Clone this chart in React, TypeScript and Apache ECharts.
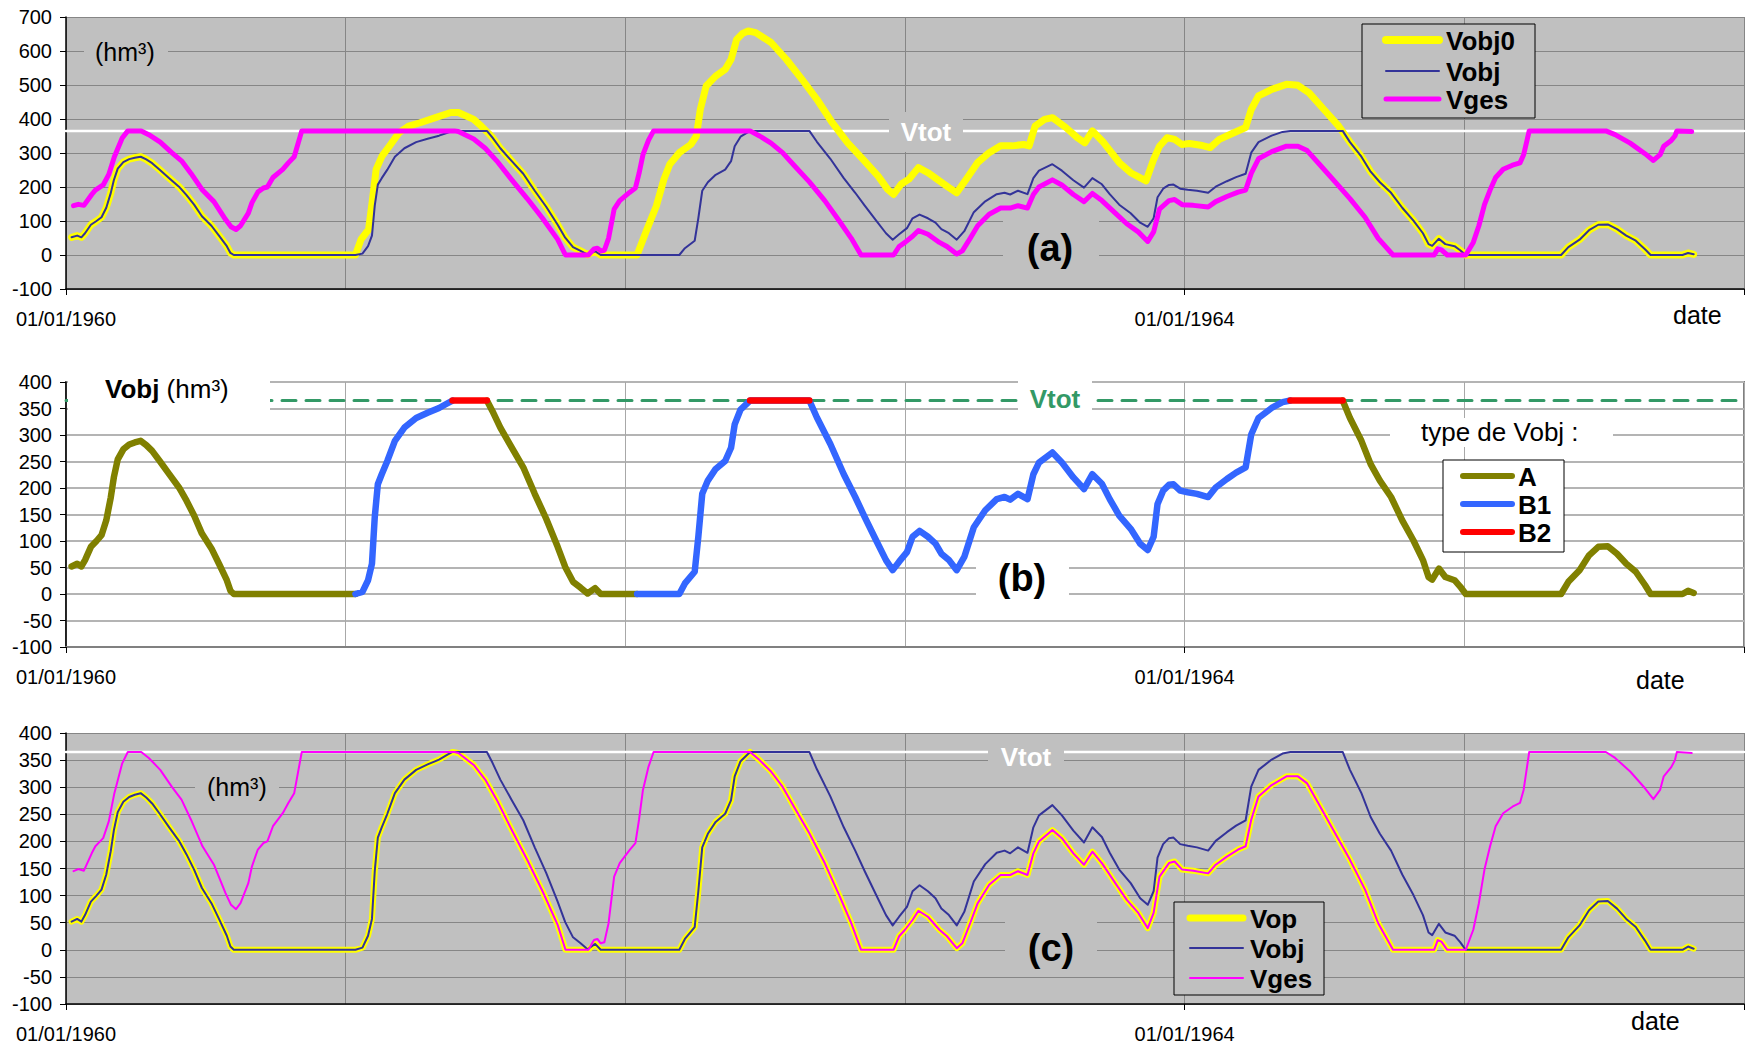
import React, { useEffect, useRef } from "react";
import * as echarts from "echarts";

const FONT = "'Liberation Sans', Arial, Helvetica, sans-serif";

// ---------- data (decimal year, hm3) ----------
const VTOT = 365;
const labelYears = [1960, 1964];

const vobj: [number, number][] = [
  [1960.02, 52], [1960.04, 57], [1960.055, 52], [1960.068, 64], [1960.089, 89], [1960.109, 100], [1960.127, 111], [1960.144, 139], [1960.16, 182], [1960.171, 220], [1960.185, 254], [1960.205, 273], [1960.226, 282], [1960.246, 286], [1960.267, 289], [1960.287, 281], [1960.308, 270], [1960.335, 251], [1960.369, 226], [1960.404, 201], [1960.431, 176], [1960.458, 148], [1960.486, 114], [1960.52, 86], [1960.547, 57], [1960.575, 26], [1960.588, 6], [1960.6, 0],
  [1961.035, 0], [1961.06, 4], [1961.08, 26], [1961.094, 57], [1961.104, 145], [1961.115, 207], [1961.129, 226], [1961.149, 251], [1961.176, 289], [1961.21, 314], [1961.252, 332], [1961.293, 342], [1961.334, 351], [1961.361, 359], [1961.382, 365], [1961.505, 365], [1961.525, 345], [1961.553, 314], [1961.594, 276], [1961.635, 239], [1961.676, 189], [1961.717, 142], [1961.758, 89], [1961.785, 51], [1961.813, 23], [1961.84, 12], [1961.865, 1], [1961.892, 11], [1961.912, 0],
  [1962.042, 0], [1962.193, 0], [1962.213, 20], [1962.248, 42], [1962.261, 108], [1962.275, 189], [1962.295, 214], [1962.323, 236], [1962.357, 251], [1962.378, 276], [1962.391, 320], [1962.412, 348], [1962.446, 365], [1962.658, 365], [1962.685, 333], [1962.733, 283], [1962.781, 226], [1962.822, 183], [1962.856, 145], [1962.897, 101], [1962.932, 64], [1962.956, 45], [1962.979, 61],
  [1963.007, 79], [1963.027, 108], [1963.052, 119], [1963.082, 108], [1963.109, 95], [1963.13, 76], [1963.157, 64], [1963.185, 45], [1963.212, 70], [1963.246, 126], [1963.287, 158], [1963.328, 179], [1963.356, 183], [1963.376, 178], [1963.404, 189], [1963.438, 179], [1963.459, 226], [1963.479, 248], [1963.527, 267], [1963.561, 248], [1963.602, 220], [1963.64, 198], [1963.67, 226], [1963.704, 208], [1963.732, 179], [1963.766, 148], [1963.807, 123], [1963.841, 95], [1963.868, 83], [1963.889, 108], [1963.903, 170], [1963.923, 195], [1963.944, 206], [1963.96, 207], [1963.984, 195],
  [1964.011, 192], [1964.044, 189], [1964.084, 183], [1964.111, 201], [1964.151, 217], [1964.184, 229], [1964.218, 239], [1964.238, 301], [1964.264, 332], [1964.311, 351], [1964.35, 362], [1964.378, 365], [1964.565, 365], [1964.591, 332], [1964.632, 289], [1964.665, 245], [1964.698, 214], [1964.738, 183], [1964.778, 139], [1964.818, 101], [1964.852, 64], [1964.872, 32], [1964.885, 27], [1964.909, 48], [1964.932, 32], [1964.965, 26], [1964.985, 14],
  [1965.005, 0], [1965.346, 0], [1965.372, 23], [1965.412, 45], [1965.446, 73], [1965.479, 89], [1965.513, 90], [1965.546, 76], [1965.579, 57], [1965.613, 42], [1965.646, 17], [1965.666, 0], [1965.78, 0], [1965.8, 6], [1965.82, 2],
];

const vobj0: [number, number][] = [
  [1960.02, 52], [1960.04, 57], [1960.055, 52], [1960.068, 64], [1960.089, 89], [1960.109, 100], [1960.127, 111], [1960.144, 139], [1960.16, 182], [1960.171, 220], [1960.185, 254], [1960.205, 273], [1960.226, 282], [1960.246, 286], [1960.267, 289], [1960.287, 281], [1960.308, 270], [1960.335, 251], [1960.369, 226], [1960.404, 201], [1960.431, 176], [1960.458, 148], [1960.486, 114], [1960.52, 86], [1960.547, 57], [1960.575, 26], [1960.588, 6], [1960.6, 0],
  [1961.035, 0], [1961.055, 46], [1961.082, 75], [1961.096, 164], [1961.109, 252], [1961.13, 291], [1961.157, 321], [1961.191, 360], [1961.225, 379], [1961.266, 389], [1961.321, 404], [1961.376, 419], [1961.403, 419], [1961.458, 399], [1961.485, 379], [1961.512, 357], [1961.525, 345], [1961.553, 314], [1961.594, 276], [1961.635, 239], [1961.676, 189], [1961.717, 142], [1961.758, 89], [1961.785, 51], [1961.813, 23], [1961.84, 12], [1961.865, 1], [1961.892, 11], [1961.912, 0],
  [1962.042, 0], [1962.077, 75], [1962.111, 144], [1962.138, 223], [1962.159, 267], [1962.193, 301], [1962.234, 325], [1962.254, 350], [1962.268, 428], [1962.289, 497], [1962.323, 526], [1962.357, 546], [1962.378, 575], [1962.398, 634], [1962.42, 652], [1962.439, 659], [1962.466, 654], [1962.521, 625], [1962.576, 575], [1962.631, 517], [1962.685, 458], [1962.74, 389], [1962.795, 330], [1962.85, 281], [1962.904, 232], [1962.938, 193], [1962.959, 178], [1962.986, 208],
  [1963.014, 223], [1963.048, 257], [1963.082, 242], [1963.123, 218], [1963.157, 198], [1963.185, 183], [1963.219, 223], [1963.26, 272], [1963.301, 301], [1963.342, 321], [1963.383, 321], [1963.424, 325], [1963.444, 321], [1963.465, 379], [1963.499, 399], [1963.527, 404], [1963.575, 375], [1963.616, 345], [1963.643, 330], [1963.67, 365], [1963.711, 330], [1963.766, 272], [1963.807, 242], [1963.862, 218], [1963.889, 281], [1963.91, 320], [1963.937, 345], [1963.964, 340], [1963.99, 325],
  [1964.017, 328], [1964.057, 323], [1964.091, 316], [1964.124, 340], [1964.164, 355], [1964.218, 375], [1964.238, 428], [1964.264, 468], [1964.311, 487], [1964.364, 502], [1964.405, 499], [1964.445, 477], [1964.498, 428], [1964.551, 379], [1964.591, 332], [1964.632, 289], [1964.665, 245], [1964.698, 214], [1964.738, 183], [1964.778, 139], [1964.818, 101], [1964.852, 64], [1964.872, 32], [1964.885, 27], [1964.909, 48], [1964.932, 32], [1964.965, 26], [1964.985, 14],
  [1965.005, 0], [1965.346, 0], [1965.372, 23], [1965.412, 45], [1965.446, 73], [1965.479, 89], [1965.513, 90], [1965.546, 76], [1965.579, 57], [1965.613, 42], [1965.646, 17], [1965.666, 0], [1965.78, 0], [1965.8, 6], [1965.82, 2],
];

const vges: [number, number][] = [
  [1960.027, 145], [1960.044, 149], [1960.064, 146], [1960.092, 178], [1960.105, 191], [1960.133, 206], [1960.153, 237], [1960.173, 289], [1960.201, 344], [1960.221, 365], [1960.269, 365], [1960.296, 354], [1960.337, 332], [1960.378, 301], [1960.413, 277], [1960.447, 240], [1960.488, 191], [1960.529, 157], [1960.57, 105], [1960.59, 83], [1960.608, 75], [1960.624, 86], [1960.652, 123], [1960.665, 154], [1960.686, 185], [1960.706, 197], [1960.72, 200], [1960.74, 228], [1960.775, 252], [1960.795, 271], [1960.816, 289], [1960.843, 365],
  [1961.389, 365], [1961.403, 363], [1961.458, 341], [1961.499, 314], [1961.54, 277], [1961.594, 221], [1961.649, 166], [1961.704, 108], [1961.758, 46], [1961.786, 0], [1961.868, 0], [1961.888, 18], [1961.9, 20], [1961.912, 12], [1961.925, 14], [1961.94, 49], [1961.96, 135], [1961.98, 160],
  [1962.015, 184], [1962.036, 197], [1962.049, 240], [1962.063, 295], [1962.083, 338], [1962.101, 365], [1962.446, 365], [1962.48, 350], [1962.521, 329], [1962.562, 301], [1962.603, 264], [1962.658, 215], [1962.713, 160], [1962.767, 98], [1962.808, 49], [1962.843, 0], [1962.959, 0], [1962.979, 25],
  [1963.0, 37], [1963.027, 55], [1963.048, 72], [1963.082, 61], [1963.123, 37], [1963.15, 25], [1963.185, 3], [1963.205, 12], [1963.233, 49], [1963.26, 86], [1963.301, 120], [1963.342, 138], [1963.376, 138], [1963.404, 145], [1963.438, 138], [1963.459, 178], [1963.479, 200], [1963.527, 221], [1963.561, 206], [1963.602, 178], [1963.64, 157], [1963.67, 181], [1963.704, 160], [1963.752, 123], [1963.793, 92], [1963.834, 68], [1963.868, 40], [1963.889, 68], [1963.91, 135], [1963.944, 160], [1963.964, 163], [1963.991, 148],
  [1964.031, 146], [1964.084, 141], [1964.111, 157], [1964.151, 172], [1964.191, 185], [1964.218, 191], [1964.238, 240], [1964.264, 283], [1964.311, 304], [1964.364, 320], [1964.405, 320], [1964.438, 307], [1964.485, 264], [1964.538, 215], [1964.591, 166], [1964.645, 111], [1964.692, 49], [1964.745, 0], [1964.892, 0], [1964.905, 18], [1964.918, 15], [1964.939, 0],
  [1965.005, 0], [1965.032, 37], [1965.052, 86], [1965.072, 148], [1965.092, 191], [1965.112, 228], [1965.139, 252], [1965.172, 264], [1965.199, 271], [1965.212, 295], [1965.232, 365], [1965.506, 365], [1965.539, 354], [1965.593, 329], [1965.646, 298], [1965.676, 278], [1965.7, 295], [1965.713, 320], [1965.74, 337], [1965.753, 350], [1965.76, 365], [1965.813, 363],
];

const vop: [number, number][] = [
  [1960.02, 52], [1960.04, 57], [1960.055, 52], [1960.068, 64], [1960.089, 89], [1960.109, 100], [1960.127, 111], [1960.144, 139], [1960.16, 182], [1960.171, 220], [1960.185, 254], [1960.205, 273], [1960.226, 282], [1960.246, 286], [1960.267, 289], [1960.287, 281], [1960.308, 270], [1960.335, 251], [1960.369, 226], [1960.404, 201], [1960.431, 176], [1960.458, 148], [1960.486, 114], [1960.52, 86], [1960.547, 57], [1960.575, 26], [1960.588, 6], [1960.6, 0],
  [1961.035, 0], [1961.06, 4], [1961.08, 26], [1961.094, 57], [1961.104, 145], [1961.115, 207], [1961.129, 226], [1961.149, 251], [1961.176, 289], [1961.21, 314], [1961.252, 332], [1961.293, 342], [1961.334, 351], [1961.361, 359], [1961.382, 365], [1961.403, 363], [1961.458, 341], [1961.499, 314], [1961.54, 277], [1961.594, 221], [1961.649, 166], [1961.704, 108], [1961.758, 46], [1961.786, 0], [1961.868, 0], [1961.892, 11], [1961.912, 0],
  [1962.193, 0], [1962.213, 20], [1962.248, 42], [1962.261, 108], [1962.275, 189], [1962.295, 214], [1962.323, 236], [1962.357, 251], [1962.378, 276], [1962.391, 320], [1962.412, 348], [1962.446, 365], [1962.48, 350], [1962.521, 329], [1962.562, 301], [1962.603, 264], [1962.658, 215], [1962.713, 160], [1962.767, 98], [1962.808, 49], [1962.843, 0], [1962.959, 0], [1962.979, 25],
  [1963.0, 37], [1963.027, 55], [1963.048, 72], [1963.082, 61], [1963.123, 37], [1963.15, 25], [1963.185, 3], [1963.205, 12], [1963.233, 49], [1963.26, 86], [1963.301, 120], [1963.342, 138], [1963.376, 138], [1963.404, 145], [1963.438, 138], [1963.459, 178], [1963.479, 200], [1963.527, 221], [1963.561, 206], [1963.602, 178], [1963.64, 157], [1963.67, 181], [1963.704, 160], [1963.752, 123], [1963.793, 92], [1963.834, 68], [1963.868, 40], [1963.889, 68], [1963.91, 135], [1963.944, 160], [1963.964, 163], [1963.991, 148],
  [1964.031, 146], [1964.084, 141], [1964.111, 157], [1964.151, 172], [1964.191, 185], [1964.218, 191], [1964.238, 240], [1964.264, 283], [1964.311, 304], [1964.364, 320], [1964.405, 320], [1964.438, 307], [1964.485, 264], [1964.538, 215], [1964.591, 166], [1964.645, 111], [1964.692, 49], [1964.745, 0], [1964.892, 0], [1964.905, 18], [1964.918, 15], [1964.939, 0],
  [1965.346, 0], [1965.372, 23], [1965.412, 45], [1965.446, 73], [1965.479, 89], [1965.513, 90], [1965.546, 76], [1965.579, 57], [1965.613, 42], [1965.646, 17], [1965.666, 0], [1965.78, 0], [1965.8, 6], [1965.82, 2],
];

// type de Vobj: segment starts and their type
const typeStarts = [1960, 1961.035, 1961.382, 1961.505, 1962.042, 1962.446, 1962.658, 1964.378, 1964.565];
const typeNames = ["A", "B1", "B2", "A", "B1", "B2", "B1", "B2", "A"];
const typeList = ["A", "B1", "B2"];

// ---------- styles ----------
const C = {
  yellow: "#FFFF00",
  navy: "#333399",
  magenta: "#FF00FF",
  olive: "#808000",
  b1: "#3366FF",
  b2: "#FF0000",
  green: "#339966",
  silver: "#C0C0C0",
  grid: "#868686",
};
const typeColors: Record<string, string> = { A: C.olive, B1: C.b1, B2: C.b2 };

function typeData(name: string) {
  return vobj.map(([t, v]) => {
    let inside = false;
    for (let i = 0; i < typeStarts.length; i++) {
      const s = typeStarts[i];
      const e = i + 1 < typeStarts.length ? typeStarts[i + 1] : Infinity;
      if (typeNames[i] === name && t >= s - 1e-9 && t <= e + 1e-9) inside = true;
    }
    return [t, inside ? v : "-"];
  });
}

const mainX = (gi: number, lineColor: string, lineWidth: number) => ({
  type: "value",
  gridIndex: gi,
  min: 1960,
  max: 1966,
  interval: 4,
  axisLine: { show: true, onZero: false, lineStyle: { color: lineColor, width: lineWidth } },
  axisTick: { show: true, length: 6, lineStyle: { color: "#000", width: 1 } },
  axisLabel: {
    formatter: (v: number) => (labelYears.indexOf(v) >= 0 ? `01/01/${v}` : ""),
    fontSize: 20,
    color: "#000",
    fontFamily: FONT,
    margin: 20,
  },
  splitLine: { show: false },
});
const splitX = (gi: number, color: string) => ({
  type: "value",
  gridIndex: gi,
  min: 1960,
  max: 1966,
  interval: 1,
  axisLine: { show: false },
  axisTick: { show: false },
  axisLabel: { show: false },
  splitLine: { show: true, lineStyle: { color, width: 1 } },
});
const mkY = (gi: number, max: number, interval: number, splitColor: string, splitWidth: number) => ({
  type: "value",
  gridIndex: gi,
  min: -100,
  max,
  interval,
  axisLine: { show: true, onZero: false, lineStyle: { color: "#000", width: 1.5 } },
  axisTick: { show: true, length: 6, lineStyle: { color: "#000", width: 1 } },
  axisLabel: { fontSize: 20, color: "#000", fontFamily: FONT, margin: 14 },
  splitLine: { show: true, lineStyle: { color: splitColor, width: splitWidth } },
});

const lineSeries = (name: string, data: any[], xi: number, yi: number, color: string, width: number, z = 3, type: any = "solid") => ({
  name,
  type: "line",
  xAxisIndex: xi,
  yAxisIndex: yi,
  data,
  showSymbol: false,
  symbol: "none",
  silent: true,
  z,
  lineStyle: { color, width, cap: "round", join: "round", type },
  emphasis: { disabled: true },
});

// graphic helpers
const bgRect = (x: number, y: number, w: number, h: number, fill: string) => ({
  type: "rect", shape: { x, y, width: w, height: h }, style: { fill }, z: 2, silent: true,
});
const text = (x: number, y: number, t: string, size: number, bold: boolean, fill = "#000", align = "left") => ({
  type: "text", x, y, z: 12, silent: true,
  style: { text: t, fill, fontSize: size, fontWeight: bold ? "bold" : "normal", fontFamily: FONT, align, verticalAlign: "middle" },
});
const legendBox = (
  x: number, y: number, w: number, h: number, fill: string,
  items: { name: string; color: string; width: number; y: number }[],
  lx0: number, lx1: number, tx: number
) => {
  const els: any[] = [
    { type: "rect", shape: { x, y, width: w, height: h }, style: { fill, stroke: "#000", lineWidth: 1 }, z: 10, silent: true },
  ];
  items.forEach((it) => {
    els.push({ type: "line", shape: { x1: lx0, y1: it.y, x2: lx1, y2: it.y }, style: { stroke: it.color, lineWidth: it.width, lineCap: "round" }, z: 11, silent: true });
    els.push(text(tx, it.y + 1, it.name, 26, true));
  });
  return els;
};

export default function App() {
  const ref = useRef<HTMLDivElement>(null);
  useEffect(() => {
    if (!ref.current) return;
    const chart = echarts.init(ref.current, null, { renderer: "svg" });
    const vtotLine = [[1960, VTOT], [1966, VTOT]];

    const option: any = {
      animation: false,
      grid: [
        { left: 66, right: 2, top: 17, height: 272, show: true, backgroundColor: C.silver, borderWidth: 0 },
        { left: 66, right: 2, top: 382, height: 265, show: true, backgroundColor: "#fff", borderColor: "#808080", borderWidth: 2 },
        { left: 66, right: 2, top: 733, height: 271, show: true, backgroundColor: C.silver, borderWidth: 0 },
      ],
      xAxis: [
        mainX(0, "#000", 1.5), splitX(0, C.grid),
        mainX(1, "#808080", 2), splitX(1, "#a8a8a8"),
        mainX(2, "#000", 1.5), splitX(2, C.grid),
      ],
      yAxis: [
        mkY(0, 700, 100, C.grid, 1),
        mkY(1, 400, 50, "#b4b4b4", 2),
        mkY(2, 400, 50, C.grid, 1),
      ],
      series: [
        // (a)
        lineSeries("VtotA", vtotLine, 0, 0, "#fff", 2.5, 1),
        lineSeries("Vobj0", vobj0, 0, 0, C.yellow, 7),
        lineSeries("Vobj", vobj, 0, 0, C.navy, 2),
        lineSeries("Vges", vges, 0, 0, C.magenta, 5),
        // (b)
        lineSeries("VtotB", vtotLine, 2, 1, C.green, 3, 1, [14, 10]),
        ...typeList.map((n) => lineSeries(n, typeData(n), 2, 1, typeColors[n], 6.5)),
        // (c)
        lineSeries("VtotC", vtotLine, 4, 2, "#fff", 2.5, 1),
        lineSeries("Vop", vop, 4, 2, C.yellow, 6),
        lineSeries("Vobj", vobj, 4, 2, C.navy, 2),
        lineSeries("Vges", vges, 4, 2, C.magenta, 2),
      ],
      graphic: {
        elements: [
          // (a)
          bgRect(84, 32, 84, 40, C.silver),
          text(95, 52, "(hm³)", 25, false),
          bgRect(889, 112, 74, 40, C.silver),
          text(926, 132, "Vtot", 26, true, "#fff", "center"),
          bgRect(1003, 213, 96, 64, C.silver),
          text(1050, 248, "(a)", 38, true, "#000", "center"),
          ...legendBox(1362, 24, 173, 94, C.silver, [
            { name: "Vobj0", color: C.yellow, width: 8, y: 40 },
            { name: "Vobj", color: C.navy, width: 2, y: 71 },
            { name: "Vges", color: C.magenta, width: 5, y: 99 },
          ], 1386, 1439, 1446),
          text(1673, 315, "date", 25, false),
          // (b)
          bgRect(68, 372, 202, 42, "#fff"),
          {
            type: "text", x: 105, y: 389, z: 12, silent: true,
            style: {
              text: "{b|Vobj} (hm³)", fill: "#000", fontSize: 26, fontFamily: FONT, align: "left", verticalAlign: "middle",
              rich: { b: { fontWeight: "bold", fontSize: 26, fontFamily: FONT } },
            },
          },
          bgRect(1018, 372, 74, 41, "#fff"),
          text(1055, 399, "Vtot", 26, true, C.green, "center"),
          bgRect(1390, 418, 223, 29, "#fff"),
          text(1421, 432, "type de Vobj :", 26, false),
          ...legendBox(1443, 460, 121, 92, "#fff", [
            { name: "A", color: C.olive, width: 6, y: 476 },
            { name: "B1", color: C.b1, width: 6, y: 504 },
            { name: "B2", color: C.b2, width: 6, y: 532 },
          ], 1463, 1512, 1518),
          bgRect(976, 553, 93, 50, "#fff"),
          text(1022, 578, "(b)", 38, true, "#000", "center"),
          text(1636, 680, "date", 25, false),
          // (c)
          bgRect(195, 771, 84, 32, C.silver),
          text(207, 787, "(hm³)", 25, false),
          bgRect(988, 740, 76, 34, C.silver),
          text(1026, 757, "Vtot", 26, true, "#fff", "center"),
          bgRect(1005, 916, 92, 56, C.silver),
          text(1051, 948, "(c)", 38, true, "#000", "center"),
          ...legendBox(1174, 902, 150, 93, C.silver, [
            { name: "Vop", color: C.yellow, width: 7, y: 918 },
            { name: "Vobj", color: C.navy, width: 2, y: 948 },
            { name: "Vges", color: C.magenta, width: 2, y: 978 },
          ], 1190, 1243, 1250),
          text(1631, 1021, "date", 25, false),
        ],
      },
    };
    chart.setOption(option);
    return () => chart.dispose();
  }, []);

  return (
    <div
      ref={ref}
      style={{ position: "fixed", left: 0, top: 0, width: 1747, height: 1047, background: "#fff" }}
    />
  );
}
